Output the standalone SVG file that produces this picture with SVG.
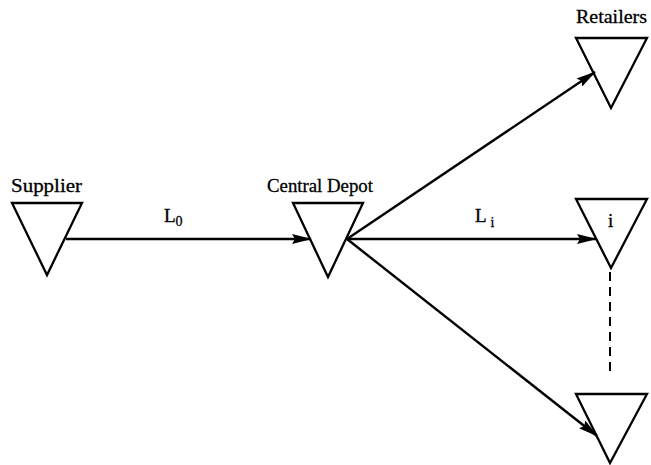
<svg xmlns="http://www.w3.org/2000/svg" width="651" height="465" viewBox="0 0 651 465">
<style>
.tri{fill:none;stroke:#000;stroke-width:2.3;stroke-linejoin:miter}
.lbl{font-family:"Liberation Serif","Times New Roman",serif;font-size:19px;fill:#000;stroke:#000;stroke-width:0.3}
.sub{font-family:"Liberation Serif","Times New Roman",serif;font-size:14px;fill:#000}
.edge{stroke:#000;stroke-width:2.4;fill:none}
</style>
<defs>
<marker id="ah" markerWidth="20" markerHeight="10" refX="19" refY="5" orient="auto" markerUnits="userSpaceOnUse">
<path d="M0,0 L20,5 L0,10 L3,5 Z" fill="#000"/>
</marker>
</defs>
<rect width="651" height="465" fill="#fff"/>
<g id="supplier">
<polygon class="tri" points="12,203 82,203 47,275"/>
<text class="lbl" x="11" y="192" textLength="71" lengthAdjust="spacingAndGlyphs">Supplier</text>
</g>
<g id="central-depot">
<polygon class="tri" points="293,203 363,203 328,277"/>
<text class="lbl" x="267" y="192" textLength="106" lengthAdjust="spacingAndGlyphs">Central Depot</text>
</g>
<g id="retailer-top">
<polygon class="tri" points="576,38 647,38 611,108"/>
<text class="lbl" x="576" y="23" textLength="71" lengthAdjust="spacingAndGlyphs">Retailers</text>
</g>
<g id="retailer-i">
<polygon class="tri" points="576,199 647,199 611,268"/>
<text class="lbl" x="608" y="227">i</text>
</g>
<g id="retailer-bottom">
<polygon class="tri" points="576,394 647,394 610,463"/>
</g>
<g id="connectors">
<line class="edge" x1="66" y1="239" x2="311" y2="239" marker-end="url(#ah)"/>
<line class="edge" x1="347" y1="239" x2="595" y2="72" marker-end="url(#ah)"/>
<line class="edge" x1="347" y1="239" x2="596" y2="239" marker-end="url(#ah)"/>
<line class="edge" x1="347" y1="239" x2="597" y2="436" marker-end="url(#ah)"/>
<line x1="610" y1="272" x2="610" y2="377" stroke="#000" stroke-width="2" stroke-dasharray="9,6"/>
<text class="lbl" x="164" y="222">L<tspan class="sub" dy="4">0</tspan></text>
<text class="lbl" x="475" y="222">L<tspan class="sub" dx="4" dy="5">i</tspan></text>
</g>
</svg>
